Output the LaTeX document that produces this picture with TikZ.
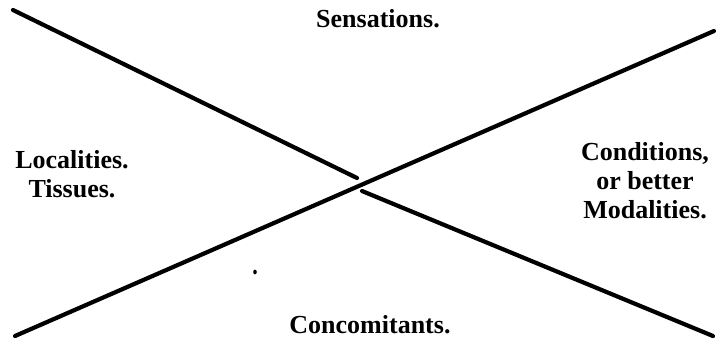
\documentclass[tikz,border=0pt]{standalone}
\usepackage{fontspec}
\setmainfont{Liberation Serif}
\begin{document}
\begin{tikzpicture}[x=1pt,y=-1pt,
  lbl/.style={font=\bfseries\fontsize{26}{29}\selectfont, align=center, inner sep=0pt},
  stroke/.style={line width=4.2pt, line cap=round}]
\useasboundingbox (0,0) rectangle (716,341);
\coordinate (a1) at (13,10);
\coordinate (a2) at (357,178);
\coordinate (a3) at (362,191);
\coordinate (a4) at (713,336);
\coordinate (b1) at (15,336);
\coordinate (b2) at (714,31);
\draw[stroke] (a1) -- (a2);
\draw[stroke] (a3) -- (a4);
\draw[stroke] (b1) -- (b2);
\node[lbl] (sens) at (378,19) {Sensations.};
\node[lbl] (loc) at (72,174) {Localities.\\Tissues.};
\node[lbl] (cond) at (645,181) {Conditions,\\or better\\Modalities.};
\node[lbl] (conc) at (370,325) {Concomitants.};
\fill (255,272) ellipse (1.8 and 2.4);
\end{tikzpicture}
\end{document}
